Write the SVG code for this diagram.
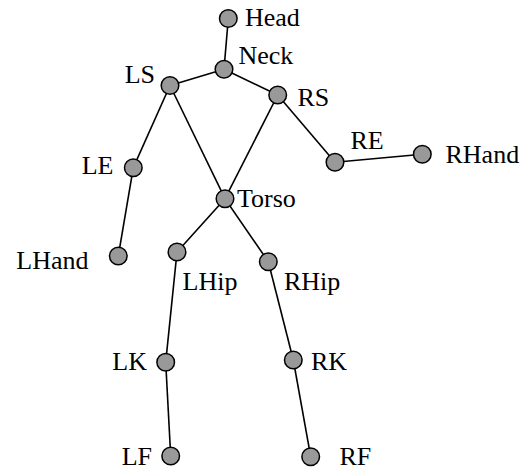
<svg xmlns="http://www.w3.org/2000/svg" width="532" height="470" viewBox="0 0 532 470">
  <style>
    .edge { stroke: #000; stroke-width: 1.6; fill: none; }
    .joint { fill: #999; stroke: #000; stroke-width: 1.5; }
    .lbl { font-family: "Liberation Serif", "Times New Roman", serif; font-size: 26px; fill: #000; }
    .end { text-anchor: end; }
  </style>
  <rect width="532" height="470" fill="#fff"/>
  <g id="connectors">
    <line class="edge" x1="228.3" y1="18.5" x2="224" y2="69.3"/>
    <line class="edge" x1="224" y1="69.3" x2="170" y2="85.5"/>
    <line class="edge" x1="224" y1="69.3" x2="277.7" y2="95"/>
    <line class="edge" x1="170" y1="85.5" x2="133.3" y2="167.7"/>
    <line class="edge" x1="133.3" y1="167.7" x2="118.3" y2="256"/>
    <line class="edge" x1="170" y1="85.5" x2="225" y2="198.7"/>
    <line class="edge" x1="277.7" y1="95" x2="225" y2="198.7"/>
    <line class="edge" x1="277.7" y1="95" x2="335" y2="162.3"/>
    <line class="edge" x1="335" y1="162.3" x2="422.3" y2="154.3"/>
    <line class="edge" x1="225" y1="198.7" x2="177" y2="252"/>
    <line class="edge" x1="225" y1="198.7" x2="268.3" y2="261.7"/>
    <line class="edge" x1="177" y1="252" x2="165.7" y2="362.3"/>
    <line class="edge" x1="165.7" y1="362.3" x2="170.7" y2="456"/>
    <line class="edge" x1="268.3" y1="261.7" x2="293.3" y2="360"/>
    <line class="edge" x1="293.3" y1="360" x2="310.7" y2="456.7"/>
  </g>
  <g id="Head"><circle class="joint" cx="228.3" cy="18.5" r="8.8"/><text class="lbl" x="245" y="26">Head</text></g>
  <g id="Neck"><circle class="joint" cx="224" cy="69.3" r="8.8"/><text class="lbl" x="238.5" y="64">Neck</text></g>
  <g id="LS"><circle class="joint" cx="170" cy="85.5" r="8.8"/><text class="lbl end" x="155" y="83">LS</text></g>
  <g id="RS"><circle class="joint" cx="277.7" cy="95" r="8.8"/><text class="lbl" x="297.5" y="106">RS</text></g>
  <g id="LE"><circle class="joint" cx="133.3" cy="167.7" r="8.8"/><text class="lbl end" x="113.5" y="173.5">LE</text></g>
  <g id="LHand"><circle class="joint" cx="118.3" cy="256" r="8.8"/><text class="lbl end" x="88.5" y="268.5">LHand</text></g>
  <g id="Torso"><circle class="joint" cx="225" cy="198.7" r="8.8"/><text class="lbl" x="237" y="206.5">Torso</text></g>
  <g id="RE"><circle class="joint" cx="335" cy="162.3" r="8.8"/><text class="lbl" x="350.5" y="148.5">RE</text></g>
  <g id="RHand"><circle class="joint" cx="422.3" cy="154.3" r="8.8"/><text class="lbl" x="445.5" y="162.5">RHand</text></g>
  <g id="LHip"><circle class="joint" cx="177" cy="252" r="8.8"/><text class="lbl" x="182.5" y="290">LHip</text></g>
  <g id="RHip"><circle class="joint" cx="268.3" cy="261.7" r="8.8"/><text class="lbl" x="284" y="290">RHip</text></g>
  <g id="LK"><circle class="joint" cx="165.7" cy="362.3" r="8.8"/><text class="lbl end" x="147" y="370">LK</text></g>
  <g id="RK"><circle class="joint" cx="293.3" cy="360" r="8.8"/><text class="lbl" x="311" y="370">RK</text></g>
  <g id="LF"><circle class="joint" cx="170.7" cy="456" r="8.8"/><text class="lbl end" x="152" y="465">LF</text></g>
  <g id="RF"><circle class="joint" cx="310.7" cy="456.7" r="8.8"/><text class="lbl" x="339.5" y="465">RF</text></g>
</svg>
